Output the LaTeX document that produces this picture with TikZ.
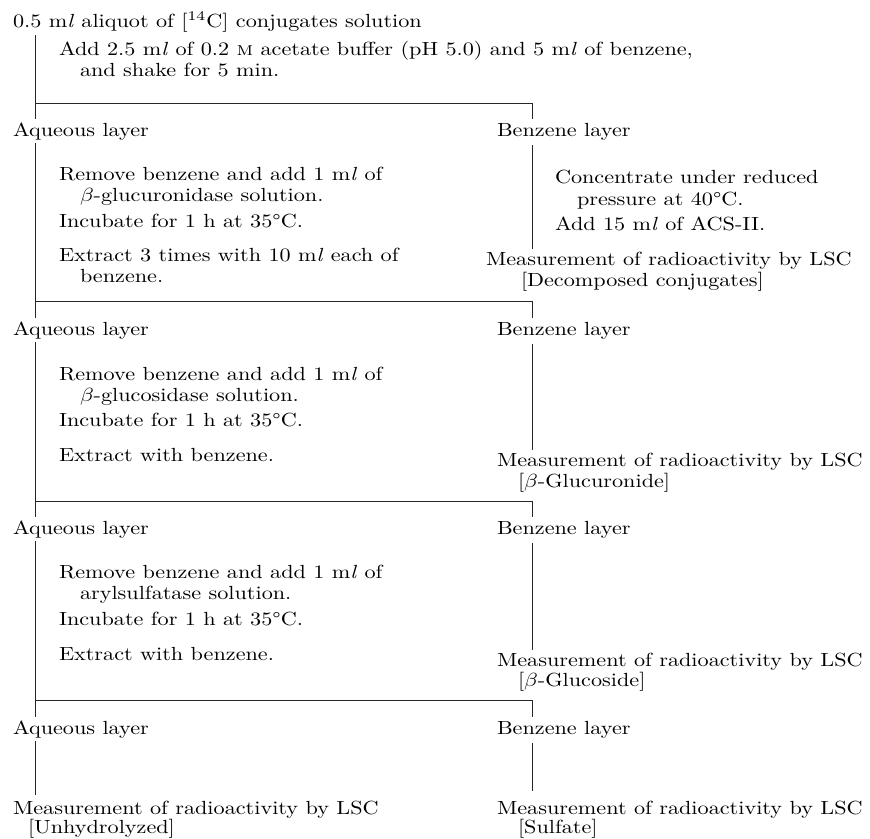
\documentclass[tikz,border=0pt]{standalone}
\usepackage{graphicx}
\newcommand{\T}[1]{\scalebox{2.22}[1.9]{#1}}
\newcommand{\mlit}{m\textit{l}}
\begin{document}
\begin{tikzpicture}[x=1pt,y=-1pt,
  txt/.style={anchor=base west,inner sep=0pt,outer sep=0pt},
  rule/.style={line width=0.8pt,black!85}]
\useasboundingbox (0,0) rectangle (870,838);
% ---------- top ----------
\node[txt] (title) at (13,27) {\T{0.5 \mlit{} aliquot of [\textsuperscript{14}C] conjugates solution}};
\node[txt] (add1) at (59,55) {\T{Add 2.5 \mlit{} of 0.2 \textsc{m} acetate buffer (pH 5.0) and 5 \mlit{} of benzene,}};
\node[txt] (add2) at (80,76) {\T{and shake for 5 min.}};
\node[txt] (aq1) at (13,136) {\T{Aqueous layer}};
\node[txt] (bz1) at (497,136) {\T{Benzene layer}};
% ---------- section A ----------
\node[txt] (remA1) at (59,180) {\T{Remove benzene and add 1 \mlit{} of}};
\node[txt] (remA2) at (80,201) {\T{$\beta$-glucuronidase solution.}};
\node[txt] (incA) at (59,227) {\T{Incubate for 1 h at 35°C.}};
\node[txt] (extA1) at (59,261) {\T{Extract 3 times with 10 \mlit{} each of}};
\node[txt] (extA2) at (80,282) {\T{benzene.}};
\node[txt] (conA1) at (555,183.5) {\T{Concentrate under reduced}};
\node[txt] (conA2) at (577,205.5) {\T{pressure at 40°C.}};
\node[txt] (acsA) at (555,230) {\T{Add 15 \mlit{} of ACS-II.}};
\node[txt] (meaA1) at (486,265) {\T{Measurement of radioactivity by LSC}};
\node[txt] (meaA2) at (521,286) {\T{[Decomposed conjugates]}};
\node[txt] (aq2) at (13,335) {\T{Aqueous layer}};
\node[txt] (bz2) at (497,335) {\T{Benzene layer}};
% ---------- section B ----------
\node[txt] (remB1) at (59,380) {\T{Remove benzene and add 1 \mlit{} of}};
\node[txt] (remB2) at (80,401) {\T{$\beta$-glucosidase solution.}};
\node[txt] (incB) at (59,426) {\T{Incubate for 1 h at 35°C.}};
\node[txt] (extB) at (59,461) {\T{Extract with benzene.}};
\node[txt] (meaB1) at (497,466) {\T{Measurement of radioactivity by LSC}};
\node[txt] (meaB2) at (518,487) {\T{[$\beta$-Glucuronide]}};
\node[txt] (aq3) at (13,534) {\T{Aqueous layer}};
\node[txt] (bz3) at (497,534) {\T{Benzene layer}};
% ---------- section C ----------
\node[txt] (remC1) at (59,578) {\T{Remove benzene and add 1 \mlit{} of}};
\node[txt] (remC2) at (80,599) {\T{arylsulfatase solution.}};
\node[txt] (incC) at (59,625) {\T{Incubate for 1 h at 35°C.}};
\node[txt] (extC) at (59,660) {\T{Extract with benzene.}};
\node[txt] (meaC1) at (497,666) {\T{Measurement of radioactivity by LSC}};
\node[txt] (meaC2) at (518,686) {\T{[$\beta$-Glucoside]}};
\node[txt] (aq4) at (13,734) {\T{Aqueous layer}};
\node[txt] (bz4) at (497,734) {\T{Benzene layer}};
% ---------- final ----------
\node[txt] (meaL1) at (13,814) {\T{Measurement of radioactivity by LSC}};
\node[txt] (meaL2) at (28,833) {\T{[Unhydrolyzed]}};
\node[txt] (meaR1) at (497,814) {\T{Measurement of radioactivity by LSC}};
\node[txt] (meaR2) at (518,833) {\T{[Sulfate]}};
% ---------- coordinates ----------
\foreach \n/\y in {a/35,b/119,c/143,d/318,e/342,f/517,g/541,h/717,i/741,j/795}
  \coordinate (L\n) at (35,\y);
\foreach \n/\y in {a/103.3,b/119,c/145,d/249,e/301.7,f/318,g/344,h/450,i/501,j/517,k/543,l/650,m/700,n/717,o/743,p/791}
  \coordinate (R\n) at (532,\y);
\foreach \n/\y in {1/103.3,2/301.7,3/501,4/700}
  \coordinate (H\n) at (35,\y);
% ---------- rules ----------
\draw[rule] (La) -- (Lb);
\draw[rule] (Lc) -- (Ld);
\draw[rule] (Le) -- (Lf);
\draw[rule] (Lg) -- (Lh);
\draw[rule] (Li) -- (Lj);
\draw[rule] (H1) -- (Ra) -- (Rb);
\draw[rule] (Rc) -- (Rd);
\draw[rule] (H2) -- (Re) -- (Rf);
\draw[rule] (Rg) -- (Rh);
\draw[rule] (H3) -- (Ri) -- (Rj);
\draw[rule] (Rk) -- (Rl);
\draw[rule] (H4) -- (Rm) -- (Rn);
\draw[rule] (Ro) -- (Rp);
\end{tikzpicture}
\end{document}
